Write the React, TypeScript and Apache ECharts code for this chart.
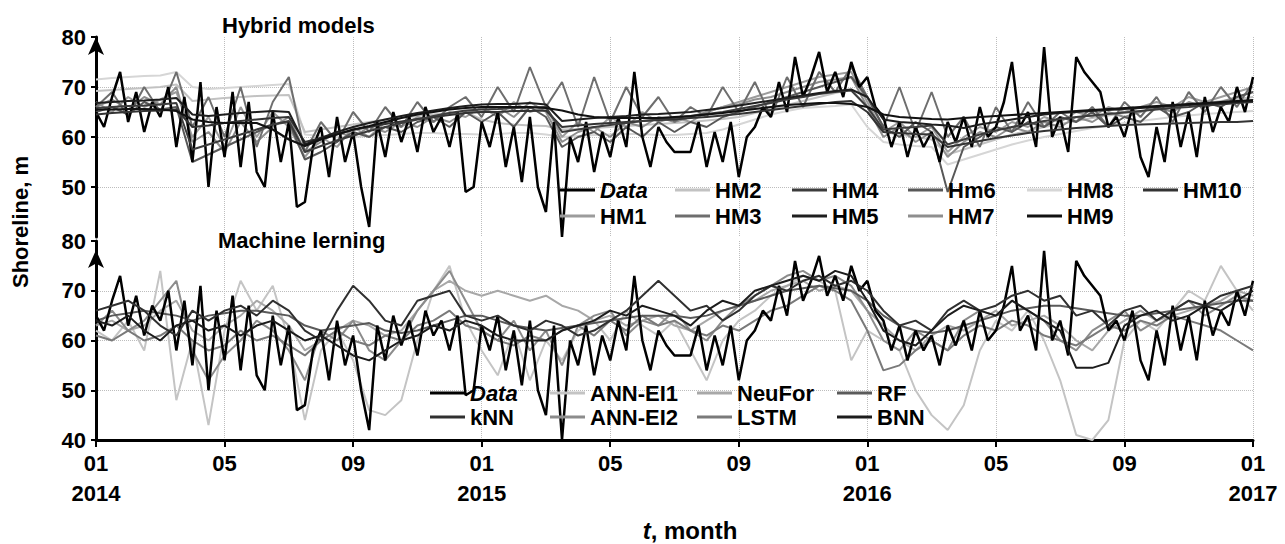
import React, { useEffect, useRef } from 'react';
import * as echarts from 'echarts';

// x axis: months since 01/2014
const X_LABELS = ['01\n2014', '05', '09', '01\n2015', '05', '09', '01\n2016', '05', '09', '01\n2017'];
const WEEK = 0.25; // sampling step of measured data (months)
const HALF = 0.5; // sampling step of model outputs (months)

// Measured shoreline (weekly)
const DATA = [
  65, 62, 68, 73, 63, 69, 61, 67, 64, 70, 58, 68,
  55, 71, 50, 66, 56, 69, 54, 67, 53, 50, 65, 55,
  63, 46, 47, 58, 62, 52, 64, 55, 61, 50, 42, 63,
  56, 65, 59, 64, 57, 66, 61, 64, 58, 65, 49, 50,
  63, 58, 65, 54, 62, 51, 64, 50, 45, 63, 40, 60,
  55, 63, 53, 61, 56, 64, 58, 73, 60, 54, 62, 59,
  57, 57, 57, 63, 54, 61, 55, 63, 52, 60, 62, 66,
  64, 71, 65, 76, 68, 72, 77, 69, 73, 68, 75, 70,
  72, 66, 64, 58, 63, 56, 62, 58, 61, 55, 63, 59,
  64, 58, 66, 60, 62, 67, 75, 62, 65, 58, 78, 60,
  64, 57, 76, 73, 71, 69, 62, 64, 60, 66, 56, 52,
  62, 55, 67, 58, 65, 56, 68, 61, 66, 63, 70, 65,
  72,
];

// Hybrid models (semi-monthly)
const HM1 = [
  67, 65, 68, 66, 67.5, 69, 60, 64, 58, 66, 60, 65,
  62, 56, 60, 58, 62, 60, 63, 62, 64, 63, 65, 64,
  66, 64, 67, 65, 66, 60, 63, 61, 64, 62, 65, 63,
  64, 63, 65, 66, 67, 68, 69, 70, 71, 72, 72.5, 73,
  67, 61, 63, 60, 62, 57, 60, 62, 61, 63, 62, 64,
  63, 65, 64, 66, 65, 66, 67, 66, 68, 67, 68, 69,
  70,
];
const HM2 = [
  69.2, 69.4, 69.6, 69.8, 70, 70.5, 67.2, 67.5, 67.8, 68, 68.2, 68.3,
  68.4, 61, 61.5, 62, 62.5, 63, 63.5, 63.8, 64.2, 64.5, 64.8, 65,
  63.5, 62.8, 62.5, 62.3, 62.2, 61.5, 61.6, 61.8, 62, 62.2, 62.4, 62.6,
  62.8, 63, 63.3, 63.6, 64, 64.8, 65.6, 66.4, 67.2, 68, 68.8, 69.5,
  66, 61, 60.5, 60, 59.5, 56.5, 57.5, 58.5, 59.5, 60.5, 61.2, 62,
  62.6, 63.2, 63.8, 64.3, 64.8, 65.2, 65.6, 66, 66.4, 66.8, 67.2, 67.6,
  68,
];
const HM3 = [
  66, 69, 64, 70, 65, 73, 62, 68, 60, 70, 58, 67,
  72, 57, 63, 59, 65, 61, 66, 62, 67, 63, 66, 68,
  64, 70, 65, 74, 66, 71, 62, 72, 63, 70, 64, 68,
  63, 66, 64, 70, 65, 71, 64, 72, 66, 73, 69, 74,
  68, 62, 70, 61, 69, 60, 64, 58, 66, 61, 67, 62,
  65, 63, 66, 62, 67, 64, 68, 63, 69, 65, 70, 66,
  71,
];
const HM4 = [
  65.8, 66, 66.2, 66.3, 66.5, 66.8, 57.5, 58.5, 59.5, 60.5, 61.5, 62.5,
  63.2, 57, 58.2, 59.3, 60.3, 61.2, 62, 62.8, 63.5, 64.2, 64.8, 65.3,
  65.5, 65.6, 65.8, 65.9, 66, 61, 61.5, 62, 62.4, 62.8, 63.2, 63.5,
  63.8, 64.2, 64.6, 65, 65.6, 66.2, 66.8, 67.5, 68, 68.6, 69, 69.3,
  66, 61.5, 61.8, 62, 62.3, 58.5, 59.5, 60.5, 61.3, 62, 62.6, 63.2,
  63.6, 64, 64.3, 64.6, 64.9, 65.2, 65.5, 65.8, 66, 66.3, 66.5, 66.8,
  67,
];
const HM5 = [
  66.8, 67, 67.2, 67.3, 67.5, 67.8, 64.5, 64.2, 64.5, 64.8, 65, 65.2,
  65, 58.5, 59.8, 61, 62, 62.8, 63.5, 64.2, 64.8, 65.3, 65.8, 66.2,
  66.5, 66.6, 66.6, 66.8, 66.5, 63.2, 63.5, 63.8, 64, 64.2, 64.5, 64.6,
  64.8, 65, 65.4, 65.8, 66.3, 66.8, 67.3, 67.8, 68.3, 68.8, 69.2, 69.5,
  68, 63.5, 63, 62.8, 62.5, 62.3, 61.8, 62.5, 63, 63.5, 64, 64.5,
  64.8, 65, 65.2, 65.4, 65.6, 65.8, 66, 66.2, 66.4, 66.6, 66.8, 67,
  67.2,
];
const HM6 = [
  65, 66, 64.5, 67, 65.5, 66, 55, 56.5, 58, 59.5, 61, 62.5,
  63, 55.5, 57, 59, 61, 60, 62, 61, 63, 64, 62, 65,
  63, 65, 62, 66, 64, 58, 60, 61, 59, 62, 60, 63,
  61, 63, 62, 64, 65, 66, 67, 68, 69, 70, 71, 72,
  68, 62, 60, 63, 61, 49, 58, 60, 62, 61, 63, 62,
  64, 63, 65, 62, 64, 63, 66, 64, 65, 67, 66, 68,
  69,
];
const HM7 = [
  66, 67.5, 65.5, 68, 66.5, 70, 59, 61, 57, 63, 59, 62,
  64, 57, 59, 61, 60, 62, 61, 63, 62, 64, 63, 65,
  65, 66, 64, 67, 65, 59, 61, 62, 60, 63, 62, 64,
  63, 64, 65, 66, 66.5, 67.5, 68, 69, 70, 71, 71.5, 72,
  66, 60, 62, 59, 61, 56, 59, 61, 60, 62, 61, 63,
  62, 64, 63, 65, 64, 65, 66, 65, 67, 66, 67, 68,
  69,
];
const HM8 = [
  71.5, 71.8, 72, 72.2, 72.3, 73, 70, 69.6, 69.8, 70, 70.2, 70.4,
  70.6, 60.5, 60.2, 60, 60, 60.2, 60.4, 60.6, 60.8, 60.8, 60.6, 60.6,
  60.5, 60.6, 60.8, 60.8, 60.5, 60, 60.2, 60.4, 60.5, 60.6, 60.6, 60.4,
  60.4, 60.6, 60.8, 61.5, 62.5, 63.5, 64.5, 65.2, 65.8, 66, 66.2, 66.5,
  62, 59, 58.5, 58.2, 58, 54.5, 55.5, 56.5, 57.5, 58.5, 59.3, 60,
  60.6, 61.2, 61.8, 62.3, 62.8, 63.2, 63.6, 64, 64.3, 64.6, 64.8, 65,
  65.2,
];
const HM9 = [
  65.5, 65.5, 65.6, 65.6, 65.5, 65.2, 63.5, 63, 62.8, 62.8, 62.8, 61.5,
  59.5, 58.2, 59.5, 60.5, 61.5, 62.2, 63, 63.8, 64.5, 65, 65.5, 65.8,
  66, 66, 66, 66, 65.8, 65.3, 64.5, 64, 63.8, 63.8, 63.8, 63.8,
  64, 64.2, 64.5, 64.8, 65.2, 65.6, 66, 66.4, 66.6, 66.8, 66.8, 66.6,
  66, 64.5, 64, 63.8, 63.6, 63.5, 63.8, 64, 64.2, 64.4, 64.6, 64.8,
  65, 65.2, 65.4, 65.6, 65.8, 66, 66.2, 66.4, 66.6, 66.8, 67, 67.2,
  67.4,
];
const HM10 = [
  64.5, 64.8, 65, 65.2, 65.3, 65.5, 62, 62.3, 62.8, 63.2, 63.5, 63.8,
  64, 59, 59.8, 60.6, 61.4, 62, 62.6, 63.1, 63.6, 64, 64.4, 64.8,
  65, 65, 65.2, 65.2, 65.3, 62, 62.3, 62.6, 62.8, 63, 63.2, 63.4,
  63.5, 63.8, 64, 64.3, 64.6, 65, 65.4, 65.8, 66.2, 66.6, 67, 67.2,
  65, 61, 60.8, 60.6, 60.5, 58, 58.6, 59.2, 59.8, 60.3, 60.8, 61.2,
  61.5, 61.8, 62, 62.2, 62.4, 62.5, 62.6, 62.7, 62.8, 62.9, 63, 63,
  63.2,
];

// Machine learning models (semi-monthly)
const KNN = [
  66, 67, 68, 66, 63, 61, 66, 64, 66, 67, 65, 68,
  66, 62, 60, 66, 71, 68, 64, 63, 68, 69, 70, 65,
  64, 65, 63, 62, 64, 63, 61, 62, 64, 66, 69, 72,
  69, 66, 67, 64, 66, 69, 71, 70, 72, 73, 71, 72,
  70, 66, 63, 64, 62, 66, 68, 66, 67, 69, 70, 68,
  69, 65, 66, 63, 66, 67, 64, 66, 68, 67, 69, 70,
  71,
];
const ANN_EI1 = [
  62, 60, 64, 58, 74, 48, 60, 43, 62, 72, 66, 71,
  60, 44, 58, 62, 56, 46, 45, 48, 60, 70, 75, 64,
  58, 53, 62, 52, 60, 56, 62, 64, 60, 66, 63, 61,
  64, 58, 52, 60, 64, 66, 69, 71, 73, 72, 70, 56,
  62, 60, 58, 50, 45, 42, 47, 58, 64, 62, 66, 60,
  52, 41, 40, 44, 60, 64, 62, 66, 70, 68, 75, 70,
  66,
];
const ANN_EI2 = [
  63, 66, 62, 64, 68, 72, 58, 52, 57, 60, 64, 62,
  58, 52, 62, 60, 64, 58, 56, 60, 66, 70, 74, 68,
  62, 60, 64, 58, 62, 55, 63, 65, 66, 61, 64, 63,
  66, 62, 60, 64, 67, 69, 71, 73, 74, 72, 73, 71,
  66, 60, 58, 62, 60, 58, 64, 66, 65, 68, 66, 64,
  60, 58, 62, 64, 66, 62, 64, 66, 68, 65, 67, 69,
  68,
];
const NEUFOR = [
  63, 64, 62, 63, 66, 68, 62, 60, 63, 65, 68, 66,
  63, 58, 60, 62, 64, 63, 61, 62, 66, 70, 72, 70,
  69, 70, 69, 68, 69, 67, 66, 64, 65, 63, 64, 65,
  63, 62, 64, 66, 67, 68, 70, 71, 72, 70, 71, 70,
  66, 63, 60, 58, 61, 63, 62, 64, 66, 63, 64, 65,
  63, 60, 58, 62, 64, 66, 64, 65, 66, 67, 68, 70,
  69,
];
const LSTM = [
  61, 60, 62, 60, 61, 63, 60, 58, 59, 62, 60, 61,
  59, 57, 60, 62, 60, 59, 61, 60, 63, 64, 66, 63,
  62, 60, 59, 61, 60, 62, 63, 61, 64, 62, 65, 63,
  64, 62, 61, 63, 62, 64, 66, 67, 69, 71, 70, 68,
  62, 54, 55, 58, 60, 58, 61, 63, 62, 64, 63, 61,
  60, 59, 61, 63, 62, 64, 63, 65, 64, 63, 62, 60,
  58,
];
const RF = [
  64, 65, 65.5, 66, 65.5, 65, 64, 65, 65.5, 66, 66, 65.5,
  65, 63, 62, 62.5, 63, 63.5, 62, 61.5, 62, 63, 64, 65,
  65, 64, 63, 62.5, 62, 62.5, 63, 63.5, 64, 64.5, 65, 65,
  65, 64.5, 65, 66, 67, 68, 69, 70, 70.5, 71, 70.5, 70,
  68, 65, 63, 62, 61.5, 62, 63, 64, 65, 66, 66.5, 67,
  67, 66.5, 66, 65.5, 65, 65, 65.5, 66, 66.5, 67, 67.5, 68,
  68,
];
const BNN = [
  64, 63, 65, 62, 60, 63, 64, 62, 63, 61, 63, 64,
  62, 60, 61, 59, 57, 56, 58, 60, 61, 63, 62, 64,
  63, 61, 60, 60, 60, 62, 63, 64, 66, 65, 67, 66,
  65, 63, 66, 68, 67, 70, 71, 72, 73, 72, 74, 73,
  68, 62, 60, 59, 62, 65, 67, 66, 65, 68, 66, 64,
  62, 54.5, 54.5, 55.5, 63, 65, 66, 64, 65, 67, 66, 68,
  70,
];

const FONT = "'Liberation Sans', Arial, Helvetica, sans-serif";

const pts = (arr: number[], step: number) => arr.map((v, i) => [i * step, v]);

function line(name: string, arr: number[], step: number, color: string, width: number, axis: number, z: number) {
  return {
    type: 'line',
    name,
    data: pts(arr, step),
    xAxisIndex: axis,
    yAxisIndex: axis,
    symbol: 'none',
    showSymbol: false,
    silent: true,
    z,
    lineStyle: { color, width },
    itemStyle: { color },
  };
}

const legendText = {
  fontSize: 22,
  fontWeight: 'bold',
  fontFamily: FONT,
  color: '#000',
  lineHeight: 22,
  rich: { it: { fontStyle: 'italic', fontWeight: 'bold', fontSize: 22, fontFamily: FONT, color: '#000' } },
};

function legendCol(left: number, top: number, names: string[], gap: number) {
  return {
    orient: 'vertical',
    left,
    top,
    padding: 0,
    icon: 'rect',
    itemWidth: 35,
    itemHeight: 3,
    itemGap: gap,
    selectedMode: false,
    data: names,
    formatter: (n: string) => (n === 'Data' ? '{it|Data}' : n),
    textStyle: legendText,
  };
}

function yAxis(grid: number, arrowOffset: number, hideMin: boolean) {
  return {
    gridIndex: grid,
    type: 'value',
    min: 40,
    max: 80,
    interval: 10,
    axisLine: {
      show: true,
      onZero: false,
      symbol: ['none', 'arrow'],
      symbolSize: [12, 18],
      symbolOffset: [0, arrowOffset],
      lineStyle: { color: '#000', width: 3 },
    },
    axisTick: { show: true, length: 5, lineStyle: { color: '#000', width: 2 } },
    axisLabel: { showMinLabel: !hideMin, fontSize: 22, fontWeight: 'bold', color: '#000', margin: 10, fontFamily: FONT },
    splitLine: { show: true, showMinLine: false, showMaxLine: false, lineStyle: { type: 'dotted', color: '#bdbdbd', width: 1 } },
  };
}

export default function App() {
  const ref = useRef<HTMLDivElement>(null);
  useEffect(() => {
    if (!ref.current) return;
    const chart = echarts.init(ref.current, undefined, { renderer: 'svg' });
    const titleStyle = { fontSize: 22, fontWeight: 'bold', fontFamily: FONT, color: '#000' };
    chart.setOption({
      animation: false,
      backgroundColor: '#fff',
      title: [
        { text: 'Hybrid models', left: 222, top: 14, padding: 0, textStyle: titleStyle },
        { text: 'Machine lerning', left: 218, top: 229, padding: 0, textStyle: titleStyle },
      ],
      legend: [
        legendCol(560, 179, ['Data', 'HM1'], 4),
        legendCol(675, 179, ['HM2', 'HM3'], 4),
        legendCol(792, 179, ['HM4', 'HM5'], 4),
        legendCol(908, 179, ['Hm6', 'HM7'], 4),
        legendCol(1027, 179, ['HM8', 'HM9'], 4),
        legendCol(1143, 179, ['HM10'], 4),
        legendCol(430, 382, ['Data', 'kNN'], 2),
        legendCol(550, 382, ['ANN-EI1', 'ANN-EI2'], 2),
        legendCol(697, 382, ['NeuFor', 'LSTM'], 2),
        legendCol(837, 382, ['RF', 'BNN'], 2),
      ],
      grid: [
        { left: 96, right: 32, top: 37, height: 200 },
        { left: 96, right: 32, top: 241, height: 199 },
      ],
      xAxis: [
        {
          gridIndex: 0,
          type: 'value',
          min: 0,
          max: 36,
          interval: 4,
          axisLine: { show: false },
          axisTick: { show: false },
          axisLabel: { show: false },
          splitLine: { show: true, showMinLine: false, lineStyle: { type: 'dotted', color: '#bdbdbd', width: 1 } },
        },
        {
          gridIndex: 1,
          type: 'value',
          min: 0,
          max: 36,
          interval: 4,
          axisLine: { show: true, onZero: false, lineStyle: { color: '#000', width: 3 } },
          axisTick: { show: true, length: 7, lineStyle: { color: '#000', width: 2 } },
          axisLabel: {
            fontSize: 22,
            fontWeight: 'bold',
            fontFamily: FONT,
            color: '#000',
            lineHeight: 30,
            margin: 8,
            formatter: (v: number) => X_LABELS[Math.round(v / 4)] ?? '',
          },
          splitLine: { show: true, showMinLine: false, lineStyle: { type: 'dotted', color: '#bdbdbd', width: 1 } },
        },
      ],
      yAxis: [yAxis(0, 0, true), yAxis(1, -9, false)],
      graphic: [
        {
          type: 'text',
          x: 20,
          y: 222,
          rotation: Math.PI / 2,
          style: { text: 'Shoreline, m', fontSize: 22, fontWeight: 'bold', fontFamily: FONT, fill: '#000', align: 'center', verticalAlign: 'middle' },
        },
        {
          type: 'text',
          x: 690,
          y: 530,
          style: {
            text: '{i|t}, month',
            fontSize: 24,
            fontWeight: 'bold',
            fontFamily: FONT,
            fill: '#000',
            align: 'center',
            verticalAlign: 'middle',
            rich: { i: { fontStyle: 'italic', fontWeight: 'bold', fontSize: 24, fontFamily: FONT, fill: '#000' } },
          },
        },
      ],
      series: [
        line('HM8', HM8, HALF, '#d6d6d6', 2, 0, 2),
        line('HM2', HM2, HALF, '#c2c2c2', 2, 0, 2),
        line('HM1', HM1, HALF, '#9c9c9c', 2, 0, 2),
        line('HM7', HM7, HALF, '#8e8e8e', 2, 0, 2),
        line('HM3', HM3, HALF, '#6e6e6e', 2, 0, 2),
        line('Hm6', HM6, HALF, '#585858', 2, 0, 2),
        line('Data', DATA, WEEK, '#000000', 2.5, 0, 3),
        line('HM10', HM10, HALF, '#333333', 2, 0, 4),
        line('HM4', HM4, HALF, '#3c3c3c', 2, 0, 4),
        line('HM5', HM5, HALF, '#1e1e1e', 2, 0, 4),
        line('HM9', HM9, HALF, '#111111', 2.2, 0, 4),
        line('ANN-EI1', ANN_EI1, HALF, '#c4c4c4', 2, 1, 2),
        line('NeuFor', NEUFOR, HALF, '#a8a8a8', 2, 1, 2),
        line('ANN-EI2', ANN_EI2, HALF, '#8c8c8c', 2, 1, 2),
        line('LSTM', LSTM, HALF, '#7a7a7a', 2, 1, 2),
        line('RF', RF, HALF, '#5a5a5a', 2, 1, 2),
        line('Data', DATA, WEEK, '#000000', 2.5, 1, 3),
        line('kNN', KNN, HALF, '#303030', 2, 1, 4),
        line('BNN', BNN, HALF, '#1c1c1c', 2, 1, 4),
      ],
    });
    return () => chart.dispose();
  }, []);
  return <div ref={ref} style={{ position: 'fixed', left: 0, top: 0, width: 1285, height: 544, background: '#fff' }} />;
}
